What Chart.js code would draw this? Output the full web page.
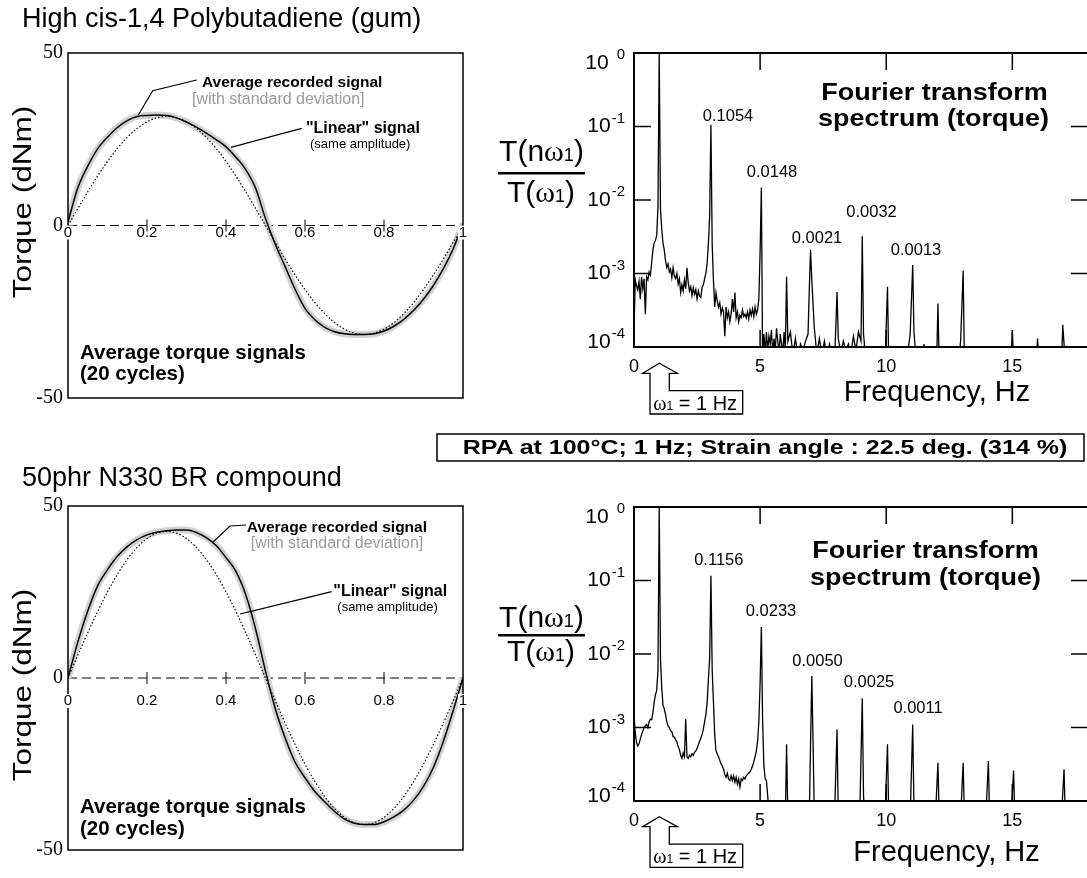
<!DOCTYPE html>
<html><head><meta charset="utf-8">
<script src="https://cdn.jsdelivr.net/npm/chart.js"></script>
<style>
html,body{margin:0;padding:0;background:#fff;overflow:hidden}
#fig{position:relative;width:1087px;height:878px;overflow:hidden;font-family:"Liberation Sans",Arial,Helvetica,sans-serif;color:#000;background:#fff}
#fig canvas{position:absolute}
#ov{position:absolute;left:0;top:0}
.t{position:absolute;white-space:nowrap;line-height:1}
.t span{line-height:0}
.sym{font-family:"Liberation Serif","Times New Roman",serif}
</style></head>
<body><div id="fig">
<canvas id="cTL" width="480" height="380" style="left:0;top:40px"></canvas>
<canvas id="cBL" width="480" height="380" style="left:0;top:494px"></canvas>
<canvas id="cTR" width="530" height="340" style="left:560px;top:40px"></canvas>
<canvas id="cBR" width="530" height="340" style="left:560px;top:494px"></canvas>
<svg id="ov" width="1087" height="878" xmlns="http://www.w3.org/2000/svg">
 <g fill="none" stroke="#000" stroke-width="1.2">
  <polyline points="138.3,115 152.7,90.7 196.7,80"/>
  <line x1="231" y1="147.3" x2="301.7" y2="128.3"/>
  <polyline points="213.3,541.7 230,526 246,525"/>
  <line x1="240" y1="614" x2="331.7" y2="591.7"/>
 </g>
 <g fill="#fff" stroke="#000" stroke-width="1.3">
  <polygon points="659.3,363.3 677.3,373.3 669.3,373.3 669.3,390.7 742.7,390.7 742.7,414 650,414 650,373.3 642.7,373.3"/>
  <polygon points="659.3,816.7 677.3,826.7 669.3,826.7 669.3,844.1 742.7,844.1 742.7,867.4 650,867.4 650,826.7 642.7,826.7"/>
 </g>
 <rect x="437" y="434" width="647" height="27" fill="none" stroke="#000" stroke-width="1.5"/>
 <line x1="498" y1="173.3" x2="585" y2="173.3" stroke="#000" stroke-width="2.5"/>
 <line x1="498" y1="635.3" x2="585" y2="635.3" stroke="#000" stroke-width="2.5"/>
</svg>
</div>
<script>
// ---------------- data ----------------
const waveX = [0, 0.025, 0.05, 0.075, 0.1, 0.125, 0.15, 0.175, 0.2, 0.225, 0.25, 0.275, 0.3, 0.325, 0.35, 0.375, 0.4, 0.425, 0.45, 0.475, 0.5,
  0.525, 0.55, 0.575, 0.6, 0.625, 0.65, 0.675, 0.7, 0.725, 0.75, 0.775, 0.8, 0.825, 0.85, 0.875, 0.9, 0.925, 0.95, 0.975, 1];
const gumRecorded = [1.0, 11.0, 17.2, 22.2, 25.6, 28.4, 30.4, 31.6, 31.9, 32.0, 31.9, 31.2, 30.0, 28.5, 26.8, 24.9, 22.8, 19.8, 16.2, 10.8, 2.0,
  -5.5, -12.0, -18.5, -24.0, -27.3, -29.5, -30.8, -31.4, -31.6, -31.6, -31.4, -30.6, -29.2, -27.2, -24.6, -21.4, -17.4, -12.6, -6.8, 0.5];
const gumLinear = [0, 4.94, 9.76, 14.35, 18.57, 22.34, 25.56, 28.16, 30.05, 31.21, 31.6, 31.21, 30.05, 28.16, 25.56, 22.34, 18.57, 14.35, 9.76, 4.94, 0,
  -4.94, -9.76, -14.35, -18.57, -22.34, -25.56, -28.16, -30.05, -31.21, -31.6, -31.21, -30.05, -28.16, -25.56, -22.34, -18.57, -14.35, -9.76, -4.94, 0];
const cbRecorded = [0, 10.5, 19.5, 26.8, 31.5, 35.4, 38.2, 40.2, 41.6, 42.4, 42.8, 43.0, 43.0, 42.3, 40.8, 38.5, 35.0, 31.0, 24.2, 14.2, 2.0,
  -9.0, -17.5, -24.5, -29.0, -33.0, -36.0, -38.8, -41.0, -42.2, -42.6, -42.6, -41.8, -40.4, -38.4, -35.5, -31.5, -26.0, -18.5, -9.5, 0];
const cbLinear = [0, 6.66, 13.16, 19.34, 25.04, 30.12, 34.46, 37.96, 40.52, 42.08, 42.6, 42.08, 40.52, 37.96, 34.46, 30.12, 25.04, 19.34, 13.16, 6.66, 0,
  -6.66, -13.16, -19.34, -25.04, -30.12, -34.46, -37.96, -40.52, -42.08, -42.6, -42.08, -40.52, -37.96, -34.46, -30.12, -25.04, -19.34, -13.16, -6.66, 0];
const waveXTicks = [0, 0.2, 0.4, 0.6, 0.8, 1];
const waveYTicks = [50, 0, -50];

const gumFreq = [
  0.00, 0.05, 0.10, 0.15, 0.20, 0.25, 0.30, 0.35, 0.40, 0.45,
  0.50, 0.55, 0.60, 0.65, 0.70, 0.75, 0.80, 0.85, 0.90, 0.95,
  1.00, 1.05, 1.10, 1.15, 1.20, 1.25, 1.30, 1.35, 1.40, 1.45,
  1.50, 1.55, 1.60, 1.65, 1.70, 1.75, 1.80, 1.85, 1.90, 1.95,
  2.00, 2.05, 2.10, 2.15, 2.20, 2.25, 2.30, 2.35, 2.40, 2.45,
  2.50, 2.55, 2.60, 2.65, 2.70, 2.75, 2.80, 2.85, 2.90, 2.95,
  3.00, 3.05, 3.10, 3.15, 3.20, 3.25, 3.30, 3.35, 3.40, 3.45,
  3.50, 3.55, 3.60, 3.65, 3.70, 3.75, 3.80, 3.85, 3.90, 3.95,
  4.00, 4.05, 4.10, 4.15, 4.20, 4.25, 4.30, 4.35, 4.40, 4.45,
  4.50, 4.55, 4.60, 4.65, 4.70, 4.75, 4.80, 4.85, 4.90, 4.95,
  5.00, 5.05, 5.10, 5.15, 5.20, 5.25, 5.30, 5.35, 5.40, 5.45,
  5.50, 5.55, 5.60, 5.65, 5.70, 5.75, 5.80, 5.85, 5.90, 5.95,
  6.00, 6.05, 6.10, 6.20, 6.30, 6.40, 6.50, 6.60, 6.70, 6.80,
  6.90, 6.95, 7.00, 7.05, 7.15, 7.25, 7.35, 7.45, 7.55, 7.65,
  7.75, 7.95, 8.05, 8.10, 8.20, 8.30, 8.40, 8.50, 8.60, 8.70,
  8.80, 8.90, 9.00, 9.05, 9.10, 9.20, 9.95, 10.05, 10.10, 10.85,
  10.95, 11.05, 11.10, 11.20, 11.45, 11.50, 11.55, 12.00, 12.05, 12.10,
  12.90, 12.95, 13.05, 13.10, 14.95, 15.00, 15.05, 15.95, 16.00, 16.05,
  16.95, 17.00, 17.10, 18.00];
const gumRatio = [
  0.00017, 0.00082, 0.00068, 0.00060, 0.00078, 0.00045, 0.00090, 0.00062, 0.00085, 0.00028,
  0.00090, 0.00082, 0.00105, 0.00095, 0.0014, 0.0021, 0.0026, 0.0028, 0.0033, 0.0080,
  1.0, 0.0075, 0.0040, 0.0026, 0.0021, 0.0015, 0.0012, 0.00135, 0.00105, 0.00115,
  0.00088, 0.0012, 0.00092, 0.00085, 0.0010, 0.00072, 0.00085, 0.00055, 0.00070, 0.00058,
  0.00082, 0.00062, 0.0012, 0.00075, 0.00058, 0.00066, 0.00050, 0.00064, 0.00052, 0.00060,
  0.00045, 0.00058, 0.00049, 0.00047, 0.00065, 0.00070, 0.00085, 0.0010, 0.0014, 0.0026,
  0.0060, 0.1054, 0.0025, 0.00080, 0.00035, 0.00055, 0.00042, 0.00035, 0.00040, 0.00028,
  0.00034, 0.00030, 0.00014, 0.00035, 0.00025, 0.00030, 0.00022, 0.00028, 0.00045, 0.00030,
  0.00055, 0.00025, 0.00030, 0.00022, 0.00027, 0.00025, 0.00032, 0.00026, 0.00028, 0.00025,
  0.00030, 0.00024, 0.00032, 0.00027, 0.00033, 0.00026, 0.00035, 0.00028, 0.00032, 0.00045,
  0.0020, 0.0148, 0.00006, 0.00015, 0.00008, 0.00016, 0.00009, 0.00014, 0.00011, 0.00017,
  0.00008, 0.00013, 0.00009, 0.00018, 0.00012, 0.00008, 0.00015, 0.00011, 0.00008, 0.00016,
  0.00009, 0.00090, 0.00012, 0.00016, 0.00008, 0.00013, 0.00007, 0.00011, 0.00009, 0.00012,
  0.00015, 0.00060, 0.0021, 0.00080, 0.00018, 0.00008, 0.00013, 0.00008, 0.00012, 0.00007,
  0.00011, 0.00006, 0.00056, 0.00013, 0.00008, 0.00012, 0.00009, 0.00011, 0.00008, 0.00014,
  0.00009, 0.00016, 0.00012, 0.0032, 0.00015, 0.00006, 0.00006, 0.00066, 0.00006, 0.00008,
  0.00015, 0.0013, 0.00016, 0.00006, 0.00006, 0.00011, 0.00006, 0.00006, 0.00039, 0.00006,
  0.00008, 0.00012, 0.0011, 0.00006, 0.00006, 0.00016, 0.00006, 0.00006, 0.00013, 0.00006,
  0.00006, 0.00020, 0.00006, 0.00006];

const cbFreq = [
  0.00, 0.05, 0.10, 0.15, 0.20, 0.25, 0.30, 0.35, 0.40, 0.45,
  0.50, 0.55, 0.60, 0.65, 0.70, 0.75, 0.80, 0.85, 0.90, 0.95,
  1.00, 1.05, 1.10, 1.15, 1.20, 1.25, 1.30, 1.35, 1.40, 1.45,
  1.50, 1.55, 1.60, 1.65, 1.70, 1.75, 1.80, 1.85, 1.90, 1.95,
  2.00, 2.05, 2.10, 2.15, 2.20, 2.25, 2.30, 2.35, 2.40, 2.45,
  2.50, 2.55, 2.60, 2.65, 2.70, 2.75, 2.80, 2.85, 2.90, 2.95,
  3.00, 3.05, 3.10, 3.15, 3.20, 3.25, 3.30, 3.35, 3.40, 3.45,
  3.50, 3.55, 3.60, 3.65, 3.70, 3.75, 3.80, 3.85, 3.90, 3.95,
  4.00, 4.05, 4.10, 4.15, 4.20, 4.25, 4.30, 4.35, 4.40, 4.45,
  4.50, 4.55, 4.60, 4.65, 4.70, 4.75, 4.80, 4.85, 4.90, 4.95,
  5.00, 5.05, 5.10, 5.15, 5.20, 5.25, 5.30, 5.35, 6.00, 6.05,
  6.10, 6.95, 7.00, 7.05, 7.10, 7.15, 7.95, 8.05, 8.10, 8.95,
  9.05, 9.10, 9.15, 9.95, 10.05, 10.10, 10.95, 11.05, 11.10, 11.15,
  11.95, 12.05, 12.10, 12.95, 13.05, 13.10, 13.95, 14.05, 14.10, 14.95,
  15.05, 15.10, 16.95, 17.05, 17.10, 18.00];
const cbRatio = [
  0.0015, 0.00085, 0.00062, 0.00056, 0.00060, 0.00070, 0.00080, 0.00090, 0.00100, 0.00105,
  0.00110, 0.00100, 0.00120, 0.00130, 0.00128, 0.00160, 0.00220, 0.00280, 0.00320, 0.0060,
  1.0, 0.0085, 0.0035, 0.0020, 0.0018, 0.0015, 0.0012, 0.00105, 0.0010, 0.00090,
  0.00088, 0.00075, 0.00074, 0.00068, 0.00064, 0.00055, 0.00050, 0.00042, 0.00038, 0.00045,
  0.00040, 0.0013, 0.00040, 0.00038, 0.00042, 0.00040, 0.00044, 0.00042, 0.00046, 0.00048,
  0.00052, 0.00058, 0.00065, 0.00072, 0.00080, 0.00095, 0.0012, 0.0015, 0.0022, 0.0045,
  0.0090, 0.1156, 0.0060, 0.0022, 0.00080, 0.00048, 0.00044, 0.00040, 0.00036, 0.00032,
  0.00030, 0.00027, 0.00023, 0.00021, 0.00024, 0.00020, 0.00019, 0.00022, 0.00019, 0.00022,
  0.00018, 0.00021, 0.00017, 0.00020, 0.000155, 0.00020, 0.00019, 0.00021, 0.00020, 0.00022,
  0.00023, 0.00024, 0.00025, 0.00027, 0.00030, 0.00034, 0.00040, 0.00048, 0.00065, 0.0012,
  0.0040, 0.0233, 0.0012, 0.00030, 0.00020, 0.00019, 0.00012, 0.00006, 0.00006, 0.00059,
  0.00006, 0.00006, 0.00060, 0.0050, 0.00060, 0.00006, 0.00006, 0.00094, 0.00006, 0.00006,
  0.0025, 0.00012, 0.00006, 0.00006, 0.00059, 0.00006, 0.00006, 0.0011, 0.00008, 0.00006,
  0.00006, 0.00033, 0.00006, 0.00006, 0.00033, 0.00006, 0.00006, 0.00035, 0.00006, 0.00006,
  0.00026, 0.00006, 0.00006, 0.00027, 0.00006, 0.00006];
const specXTicks = [0, 5, 10, 15];
const specYTicks = [1, 0.1, 0.01, 0.001, 0.0001];

// ---------------- drawing helpers ----------------
const SANS = '"Liberation Sans", Arial, Helvetica, sans-serif';
const SERIF = '"Liberation Serif", "Times New Roman", serif';

function seg(ctx, x1, y1, x2, y2) { ctx.beginPath(); ctx.moveTo(x1, y1); ctx.lineTo(x2, y2); ctx.stroke(); }

const axesPlugin = {
  id: 'figaxes',
  beforeDatasetsDraw(chart, _a, o) {
    if (o.kind !== 'wave') return;
    const {ctx, chartArea: a, scales: {y}} = chart;
    const y0 = y.getPixelForValue(0);
    ctx.save();
    ctx.strokeStyle = '#000'; ctx.lineWidth = 1; ctx.setLineDash([9, 5]);
    seg(ctx, a.left, y0, a.right, y0);
    ctx.restore();
  },
  afterDatasetsDraw(chart, _a, o) {
    const {ctx, chartArea: a, scales: {x, y}} = chart;
    ctx.save();
    ctx.strokeStyle = '#000'; ctx.fillStyle = '#000';
    if (o.kind === 'wave') {
      ctx.lineWidth = 1.5;
      ctx.strokeRect(a.left, a.top, a.right - a.left, a.bottom - a.top);
      const y0 = y.getPixelForValue(0);
      ctx.lineWidth = 1;
      ctx.font = '15px ' + SANS;
      ctx.textAlign = 'center'; ctx.textBaseline = 'middle';
      x.ticks.forEach(t => {
        const px = x.getPixelForValue(t.value);
        const lab = String(t.value);
        const ly = y0 + o.labelDy;
        if (t.value > x.min && t.value < x.max) {
          seg(ctx, px, y0 - 6, px, y0 + 6);
        } else {
          const w = ctx.measureText(lab).width;
          ctx.fillStyle = '#fff'; ctx.fillRect(px - w / 2 - 1, ly - 7, w + 2, 14);
        }
        ctx.fillStyle = '#000'; ctx.fillText(lab, px, ly);
      });
      ctx.font = '20px ' + SERIF;
      ctx.textAlign = 'right';
      y.ticks.forEach(t => ctx.fillText(String(t.value), a.left - 5, y.getPixelForValue(t.value)));
    } else {
      ctx.lineWidth = 2;
      ctx.beginPath();
      ctx.moveTo(a.right, a.top); ctx.lineTo(a.left, a.top); ctx.lineTo(a.left, a.bottom);
      ctx.lineTo(a.right, a.bottom); ctx.lineTo(a.right, a.top);
      ctx.stroke();
      ctx.lineWidth = 1.5;
      x.ticks.forEach(t => {
        if (t.value <= x.min || t.value >= x.max) return;
        const px = x.getPixelForValue(t.value);
        seg(ctx, px, a.top, px, a.top + 17);
        seg(ctx, px, a.bottom, px, a.bottom - 17);
      });
      y.ticks.forEach(t => {
        if (t.value >= y.max || t.value <= y.min) return;
        const py = y.getPixelForValue(t.value);
        seg(ctx, a.left, py, a.left + 17, py);
        seg(ctx, a.right, py, a.right - 17, py);
      });
      ctx.font = '18px ' + SANS;
      ctx.textAlign = 'center'; ctx.textBaseline = 'middle';
      x.ticks.forEach(t => ctx.fillText(String(t.value), x.getPixelForValue(t.value), a.bottom + 20));
      y.ticks.forEach(t => {
        const py = y.getPixelForValue(t.value);
        const e = Math.round(Math.log10(t.value));
        const es = String(e);
        const cy = Math.min(Math.max(py, a.top + 10), a.bottom - 5);
        const rx = a.left - 9;
        ctx.font = '15px ' + SANS;
        const ew = ctx.measureText(es).width;
        ctx.textAlign = 'left'; ctx.textBaseline = 'middle';
        ctx.fillText(es, rx - ew, cy - 8);
        ctx.font = '21px ' + SANS;
        ctx.textAlign = 'right';
        ctx.fillText('10', rx - ew - (e === 0 ? 8 : 1), cy);
      });
    }
    ctx.restore();
  }
};

function setTicks(list) { return s => { s.ticks = list.map(v => ({value: v})); }; }

function waveChart(id, recorded, linear, pad, labelDy) {
  const pts = arr => waveX.map((xv, i) => ({x: xv, y: arr[i]}));
  return new Chart(document.getElementById(id), {
    type: 'line',
    data: {datasets: [
      {data: pts(recorded), borderColor: '#d2d2d2', borderWidth: 7, pointRadius: 0, cubicInterpolationMode: 'monotone', order: 3},
      {data: pts(linear), borderColor: '#000', borderWidth: 1.2, borderDash: [1.5, 2], pointRadius: 0, cubicInterpolationMode: 'monotone', order: 2},
      {data: pts(recorded), borderColor: '#000', borderWidth: 1.5, pointRadius: 0, cubicInterpolationMode: 'monotone', order: 1}
    ]},
    options: {
      responsive: false, animation: false, events: [],
      layout: {padding: pad},
      scales: {
        x: {type: 'linear', min: 0, max: 1, display: false, afterBuildTicks: setTicks(waveXTicks)},
        y: {type: 'linear', min: -50, max: 50, display: false, afterBuildTicks: setTicks(waveYTicks)}
      },
      plugins: {legend: {display: false}, tooltip: {enabled: false}, figaxes: {kind: 'wave', labelDy: labelDy}}
    },
    plugins: [axesPlugin]
  });
}

function specChart(id, freq, ratio) {
  return new Chart(document.getElementById(id), {
    type: 'line',
    data: {datasets: [{data: freq.map((f, i) => ({x: f, y: ratio[i]})), borderColor: '#000', borderWidth: 1.3, pointRadius: 0, tension: 0}]},
    options: {
      responsive: false, animation: false, events: [],
      layout: {padding: {left: 74, top: 13, right: 2, bottom: 33}},
      scales: {
        x: {type: 'linear', min: 0, max: 18, display: false, afterBuildTicks: setTicks(specXTicks)},
        y: {type: 'logarithmic', min: 0.0001, max: 1, display: false, afterBuildTicks: setTicks(specYTicks)}
      },
      plugins: {legend: {display: false}, tooltip: {enabled: false}, figaxes: {kind: 'spec'}}
    },
    plugins: [axesPlugin]
  });
}

waveChart('cTL', gumRecorded, gumLinear, {left: 68, top: 13, right: 17, bottom: 22}, 7);
waveChart('cBL', cbRecorded, cbLinear, {left: 68, top: 12, right: 17, bottom: 24}, 23);
specChart('cTR', gumFreq, gumRatio);
specChart('cBR', cbFreq, cbRatio);

// ---------------- text ----------------
const fig = document.getElementById('fig');
function txt(html, x, bl, size, o = {}) {
  const d = document.createElement('div');
  d.className = 't';
  d.innerHTML = html;
  d.style.fontSize = size + 'px';
  d.style.left = x + 'px';
  d.style.top = (bl - 0.8465 * size) + 'px';
  if (o.b) d.style.fontWeight = 'bold';
  if (o.c) d.style.color = o.c;
  const tf = [];
  if (o.a === 'c') tf.push('translateX(-50%)');
  if (o.sx || o.sy) tf.push('scale(' + (o.sx || 1) + ',' + (o.sy || 1) + ')');
  if (tf.length) d.style.transform = tf.join(' ');
  fig.appendChild(d);
  return d;
}
function vtxt(html, cx, cy, size, sy) {
  const d = document.createElement('div');
  d.className = 't';
  d.innerHTML = html;
  d.style.fontSize = size + 'px';
  d.style.left = cx + 'px';
  d.style.top = cy + 'px';
  d.style.transform = 'translate(-50%,-50%) rotate(-90deg) scale(1,' + sy + ')';
  fig.appendChild(d);
}
const OM = '<span class="sym">&omega;</span><span style="font-size:0.6em">1</span>';

// panel titles
txt('High cis-1,4 Polybutadiene (gum)', 22, 28.3, 27);
txt('50phr N330 BR compound', 22, 486.7, 27);
vtxt('Torque (dNm)', 23, 202, 31.5, 0.82);
vtxt('Torque (dNm)', 23, 685, 31.5, 0.82);

// wave annotations (top)
txt('Average recorded signal', 202, 87.3, 15.5, {b: 1});
txt('[with standard deviation]', 192, 105, 16, {c: '#9a9a9a'});
txt('&quot;Linear&quot; signal', 306, 133.3, 16, {b: 1});
txt('(same amplitude)', 310, 148, 13);
txt('Average torque signals', 80, 359.3, 20.5, {b: 1});
txt('(20 cycles)', 80, 380, 20.5, {b: 1});
// wave annotations (bottom)
txt('Average recorded signal', 246.7, 531.7, 15.5, {b: 1});
txt('[with standard deviation]', 250.7, 548.3, 16, {c: '#9a9a9a'});
txt('&quot;Linear&quot; signal', 333.3, 596.7, 16, {b: 1});
txt('(same amplitude)', 337.3, 610.7, 13);
txt('Average torque signals', 80, 813.3, 20.5, {b: 1});
txt('(20 cycles)', 80, 835, 20.5, {b: 1});

// spectrum annotations (top)
txt('0.1054', 728, 120.7, 16.5, {a: 'c'});
txt('0.0148', 772, 177.3, 16.5, {a: 'c'});
txt('0.0021', 817, 242.7, 16.5, {a: 'c'});
txt('0.0032', 871.5, 216.7, 16.5, {a: 'c'});
txt('0.0013', 916, 255, 16.5, {a: 'c'});
txt('Fourier transform', 934.5, 101.7, 27, {b: 1, a: 'c', sy: 0.9});
txt('spectrum (torque)', 933.4, 128.3, 27, {b: 1, a: 'c', sy: 0.9});
txt('Frequency, Hz', 937, 401.7, 29, {a: 'c'});
txt('T(n' + OM + ')', 541.5, 161, 30, {a: 'c'});
txt('T(' + OM + ')', 541, 202, 30, {a: 'c'});
txt(OM + ' = 1 Hz', 653.3, 410, 20);
// spectrum annotations (bottom)
txt('0.1156', 718.8, 565, 16.5, {a: 'c'});
txt('0.0233', 771, 616, 16.5, {a: 'c'});
txt('0.0050', 817.5, 666, 16.5, {a: 'c'});
txt('0.0025', 869, 686.7, 16.5, {a: 'c'});
txt('0.0011', 918, 713.3, 16.5, {a: 'c'});
txt('Fourier transform', 925.5, 560, 27, {b: 1, a: 'c', sy: 0.9});
txt('spectrum (torque)', 925.5, 587.3, 27, {b: 1, a: 'c', sy: 0.9});
txt('Frequency, Hz', 946.5, 861.7, 29, {a: 'c'});
txt('T(n' + OM + ')', 541.5, 627, 30, {a: 'c'});
txt('T(' + OM + ')', 541, 661, 30, {a: 'c'});
txt(OM + ' = 1 Hz', 653.3, 863.4, 20);

// condition box
txt('RPA at 100°C; 1 Hz; Strain angle : 22.5 deg. (314 %)', 765, 454, 20, {b: 1, a: 'c', sx: 1.25});
</script>
</body></html>
